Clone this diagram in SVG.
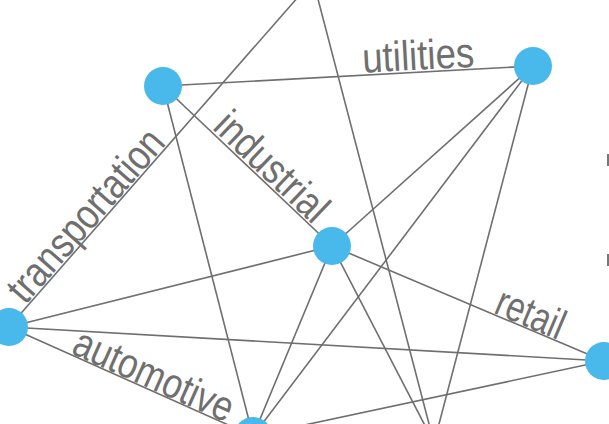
<svg xmlns="http://www.w3.org/2000/svg" width="609" height="424" viewBox="0 0 609 424">
<style>
  .edge { stroke: #6f6f6f; stroke-width: 1.6; fill: none; }
  .node { fill: #48b9ea; }
  .lbl { font-family: "Liberation Sans", Arial, sans-serif; font-size: 42px; fill: #6f6f6f; }
  .mark { fill: #777777; }
</style>
<rect width="609" height="424" fill="#ffffff"/>
<g id="connectors">
  <line class="edge" x1="163" y1="86" x2="533" y2="66"/>
  <line class="edge" x1="163" y1="86" x2="332" y2="246"/>
  <line class="edge" x1="163" y1="86" x2="253" y2="436"/>
  <line class="edge" x1="9" y1="327" x2="313" y2="-20"/>
  <line class="edge" x1="313" y1="-20" x2="434" y2="443"/>
  <line class="edge" x1="533" y1="66" x2="332" y2="246"/>
  <line class="edge" x1="533" y1="66" x2="253" y2="436"/>
  <line class="edge" x1="533" y1="66" x2="434" y2="443"/>
  <line class="edge" x1="332" y1="246" x2="9" y2="327"/>
  <line class="edge" x1="332" y1="246" x2="253" y2="436"/>
  <line class="edge" x1="332" y1="246" x2="434" y2="443"/>
  <line class="edge" x1="332" y1="246" x2="604" y2="361"/>
  <line class="edge" x1="9" y1="327" x2="604" y2="361"/>
  <line class="edge" x1="9" y1="327" x2="253" y2="436"/>
  <line class="edge" x1="253" y1="436" x2="604" y2="361"/>
</g>
<g id="labels">
  <text class="lbl" transform="translate(363,72.7) rotate(-3.09)" textLength="112" lengthAdjust="spacingAndGlyphs">utilities</text>
  <text class="lbl" transform="translate(211.5,128.5) rotate(43.57)" textLength="140" lengthAdjust="spacingAndGlyphs">industrial</text>
  <text class="lbl" transform="translate(25.3,305.4) rotate(-48.78)" textLength="215" lengthAdjust="spacingAndGlyphs">transportation</text>
  <text class="lbl" transform="translate(492.5,312.5) rotate(22.92)" textLength="71" lengthAdjust="spacingAndGlyphs">retail</text>
  <text class="lbl" transform="translate(70,353) rotate(24.07)" textLength="171" lengthAdjust="spacingAndGlyphs">automotive</text>
</g>
<g id="node-A"><circle class="node" cx="163" cy="86" r="19"/></g>
<g id="node-B"><circle class="node" cx="533" cy="66" r="19"/></g>
<g id="node-C"><circle class="node" cx="332" cy="246" r="19"/></g>
<g id="node-D"><circle class="node" cx="9" cy="327" r="19"/></g>
<g id="node-E"><circle class="node" cx="604" cy="361" r="19"/></g>
<g id="node-F"><circle class="node" cx="253" cy="436" r="19"/></g>
<g id="node-G"><circle class="node" cx="434" cy="443" r="19"/></g>
<g id="node-H"><circle class="node" cx="313" cy="-20" r="19"/></g>
<rect class="mark" x="607" y="154" width="3" height="12"/>
<rect class="mark" x="607" y="254" width="3" height="12"/>
</svg>
